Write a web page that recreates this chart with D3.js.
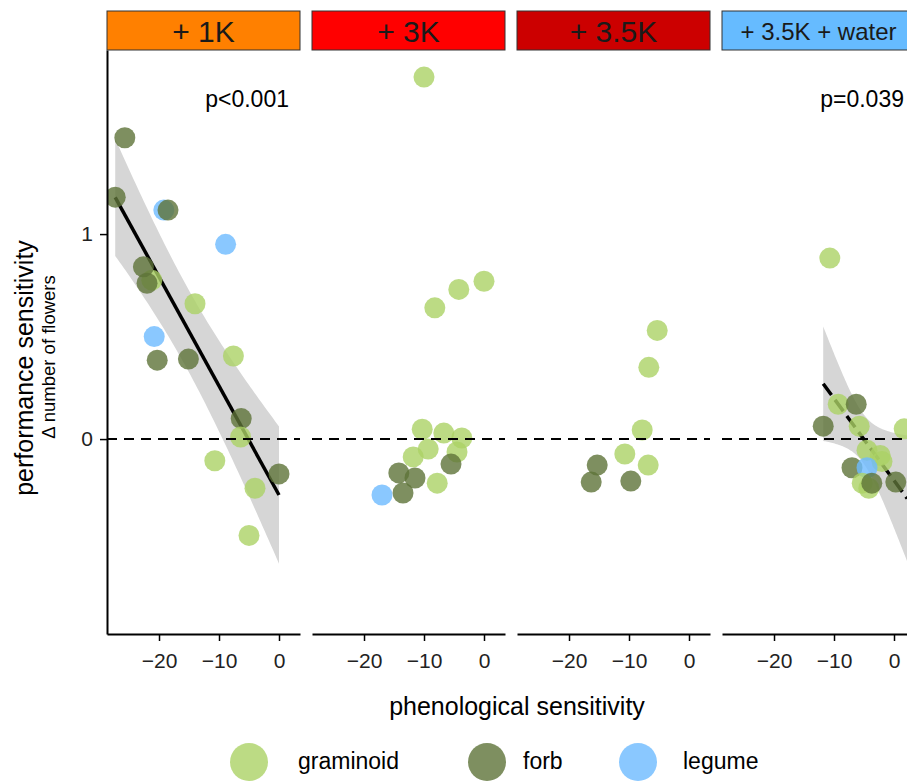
<!DOCTYPE html>
<html>
<head>
<meta charset="utf-8">
<script src="https://cdn.jsdelivr.net/npm/d3@7"></script>
<style>
body { margin: 0; background: #fff; }
text { font-family: "Liberation Sans", Arial, Helvetica, sans-serif; }
</style>
</head>
<body>
<div id="chart"></div>
<script>
var width = 907,
	height = 784;

var panels = ["+ 1K", "+ 3K", "+ 3.5K", "+ 3.5K + water"];
var stripColors = ["#ff8000", "#ff0000", "#cc0000", "#66bbff"];
var types = ["graminoid", "forb", "legume"];
var typeColors = ["#abd265", "#5e7338", "#6dbaff"];

// [phenological sensitivity, performance sensitivity, type index]
var pts1 = [
	[-25.7, 1.47, 1], [-27.3, 1.18, 1], [-19.2, 1.117, 2], [-18.5, 1.117, 1],
	[-8.9, 0.95, 2], [-21.2, 0.775, 0], [-22.6, 0.84, 1], [-22.0, 0.76, 1],
	[-14.0, 0.66, 0], [-20.8, 0.50, 2], [-20.3, 0.385, 1], [-15.1, 0.39, 1],
	[-7.6, 0.405, 0], [-6.3, 0.10, 1], [-6.4, 0.01, 0], [-10.7, -0.106, 0],
	[0.0, -0.17, 1], [-4.0, -0.24, 0], [-5.0, -0.47, 0]
];
var pts2 = [
	[-10.0, 1.766, 0], [-8.2, 0.64, 0], [-4.2, 0.73, 0], [0.0, 0.77, 0],
	[-10.3, 0.048, 0], [-6.7, 0.029, 0], [-3.7, 0.005, 0], [-9.3, -0.049, 0],
	[-4.5, -0.063, 0], [-11.8, -0.087, 0], [-5.5, -0.122, 1], [-14.2, -0.165, 1],
	[-11.5, -0.19, 1], [-7.8, -0.215, 0], [-13.5, -0.263, 1], [-17.0, -0.273, 2]
];
var pts3 = [
	[-5.3, 0.53, 0], [-6.7, 0.35, 0], [-7.8, 0.044, 0], [-10.7, -0.073, 0],
	[-6.8, -0.127, 0], [-15.3, -0.127, 1], [-16.3, -0.21, 1], [-9.7, -0.205, 1]
];
var pts4 = [
	[-10.7, 0.883, 0], [-9.3, 0.17, 0], [-6.3, 0.17, 1], [-11.8, 0.063, 1],
	[-5.8, 0.063, 0], [1.7, 0.05, 0], [-4.5, -0.054, 0], [-2.3, -0.08, 0],
	[-2.0, -0.11, 0], [-7.0, -0.14, 1], [-4.5, -0.14, 2], [-5.3, -0.215, 0],
	[-4.2, -0.24, 0], [-3.7, -0.215, 1], [0.3, -0.21, 1]
];
var points = [pts1, pts2, pts3, pts4];

// linear fits shown (panel index, x range, intercept, slope, band parameters)
var fitPanel = [0, 3];
var fitX0 = [-27.3, -11.8];
var fitX1 = [0, 2.2];
var fitB0 = [-0.273, -0.202];
var fitB1 = [-0.0532, -0.04];
var fitXm = [-15.5, -5.2];
var fitA = [0.04, 0.0144];
var fitB = [0.0003, 0.00146];
var fitDashed = [false, true];
var pLabels = ["p<0.001", "p=0.039"];

var xTicks = [-20, -10, 0];
var yTicks = [0, 1];

var panelLeft = 107, panelW = 193, panelGap = 12,
	panelTop = 50, panelBottom = 634;

var svg = d3.select("#chart").append("svg")
	.attr("width", width)
	.attr("height", height)

var x = d3.scaleLinear().domain([-28.67, 3.5]).range([0, panelW]);
var y = d3.scaleLinear().domain([-0.951, 1.898]).range([panelBottom, panelTop]);

svg.append("clipPath").attr("id", "pclip")
	.append("rect")
	.attr("x", 0).attr("y", panelTop)
	.attr("width", panelW).attr("height", panelBottom - panelTop)

panels.forEach(function(name, i){
	var g = svg.append("g")
		.attr("transform", "translate(" + (panelLeft + i * (panelW + panelGap)) + ",0)");

	// strip
	g.append("rect")
		.attr("x", 0).attr("y", 11)
		.attr("width", panelW).attr("height", 39)
		.attr("fill", stripColors[i])
		.attr("stroke", "#333").attr("stroke-width", 1)
	g.append("text")
		.attr("x", panelW / 2).attr("y", 31)
		.attr("dy", "0.36em")
		.attr("text-anchor", "middle")
		.attr("fill", "#1a1a1a")
		.style("font-size", i == 3 ? "24px" : "30px")
		.text(name)

	var plot = g.append("g").attr("clip-path", "url(#pclip)");

	var f = fitPanel.indexOf(i);
	if(f >= 0){
		var xs = d3.range(81).map(function(k){
			return fitX0[f] + (fitX1[f] - fitX0[f]) * k / 80;
		});
		var band = xs.map(function(v){
			var fit = fitB0[f] + fitB1[f] * v;
			var hw = Math.sqrt(fitA[f] + fitB[f] * (v - fitXm[f]) * (v - fitXm[f]));
			return {x: v, lo: fit - hw, hi: fit + hw};
		});
		plot.append("path")
			.datum(band)
			.attr("fill", "#d6d6d6")
			.attr("d", d3.area()
				.x(function(d){ return x(d.x); })
				.y0(function(d){ return y(d.lo); })
				.y1(function(d){ return y(d.hi); }))
		plot.append("line")
			.attr("x1", x(fitX0[f])).attr("y1", y(fitB0[f] + fitB1[f] * fitX0[f]))
			.attr("x2", x(fitX1[f])).attr("y2", y(fitB0[f] + fitB1[f] * fitX1[f]))
			.attr("stroke", "#000").attr("stroke-width", 3.5)
			.attr("stroke-dasharray", fitDashed[f] ? "14,6" : null)

		g.append("text")
			.attr("x", panelW - 11).attr("y", 107)
			.attr("text-anchor", "end")
			.attr("fill", "#000")
			.style("font-size", "23px")
			.text(pLabels[f])
	}

	plot.selectAll(".pt")
		.data(points[i])
		.enter().append("circle")
		.attr("class", "pt")
		.attr("cx", function(d){ return x(d[0]); })
		.attr("cy", function(d){ return y(d[1]); })
		.attr("r", 10.5)
		.attr("fill", function(d){ return typeColors[d[2]]; })
		.attr("fill-opacity", 0.8)

	plot.append("line")
		.attr("x1", 0).attr("x2", panelW)
		.attr("y1", y(0)).attr("y2", y(0))
		.attr("stroke", "#000").attr("stroke-width", 2)
		.attr("stroke-dasharray", "10,7")

	var xa = g.append("g")
		.attr("transform", "translate(0," + panelBottom + ")")
		.call(d3.axisBottom(x).tickValues(xTicks).tickSize(7).tickSizeOuter(0).tickPadding(12))
	xa.select(".domain").attr("stroke-width", 2)
	xa.selectAll(".tick line").attr("stroke-width", 1.5)
	xa.selectAll("text").style("font-size", "21px").attr("fill", "#222")

	if(i == 0){
		var ya = g.append("g")
			.call(d3.axisLeft(y).tickValues(yTicks).tickFormat(d3.format("d"))
				.tickSize(7).tickSizeOuter(0).tickPadding(7))
		ya.select(".domain").attr("stroke-width", 2)
		ya.selectAll(".tick line").attr("stroke-width", 1.5)
		ya.selectAll("text").style("font-size", "21px").attr("fill", "#222")
	}
});

// axis titles
svg.append("text")
	.attr("x", 517).attr("y", 715)
	.attr("text-anchor", "middle")
	.style("font-size", "25px")
	.text("phenological sensitivity")

svg.append("text")
	.attr("transform", "translate(33,368) rotate(-90)")
	.attr("text-anchor", "middle")
	.style("font-size", "25px")
	.text("performance sensitivity")

svg.append("text")
	.attr("transform", "translate(55,357) rotate(-90)")
	.attr("text-anchor", "middle")
	.style("font-size", "18.5px")
	.text("\u0394 number of flowers")

// legend
var legX = [249, 487, 638];
var leg = svg.selectAll(".leg")
	.data(types)
	.enter().append("g")
	.attr("class", "leg")
	.attr("transform", function(d, i){ return "translate(" + legX[i] + ",762)"; })

leg.append("circle")
	.attr("r", 19)
	.attr("fill", function(d, i){ return typeColors[i]; })
	.attr("fill-opacity", 0.8)

leg.append("text")
	.attr("x", function(d, i){ return [49, 36, 45][i]; })
	.attr("y", 7)
	.style("font-size", "23px")
	.text(function(d){ return d; })
</script>
</body>
</html>
